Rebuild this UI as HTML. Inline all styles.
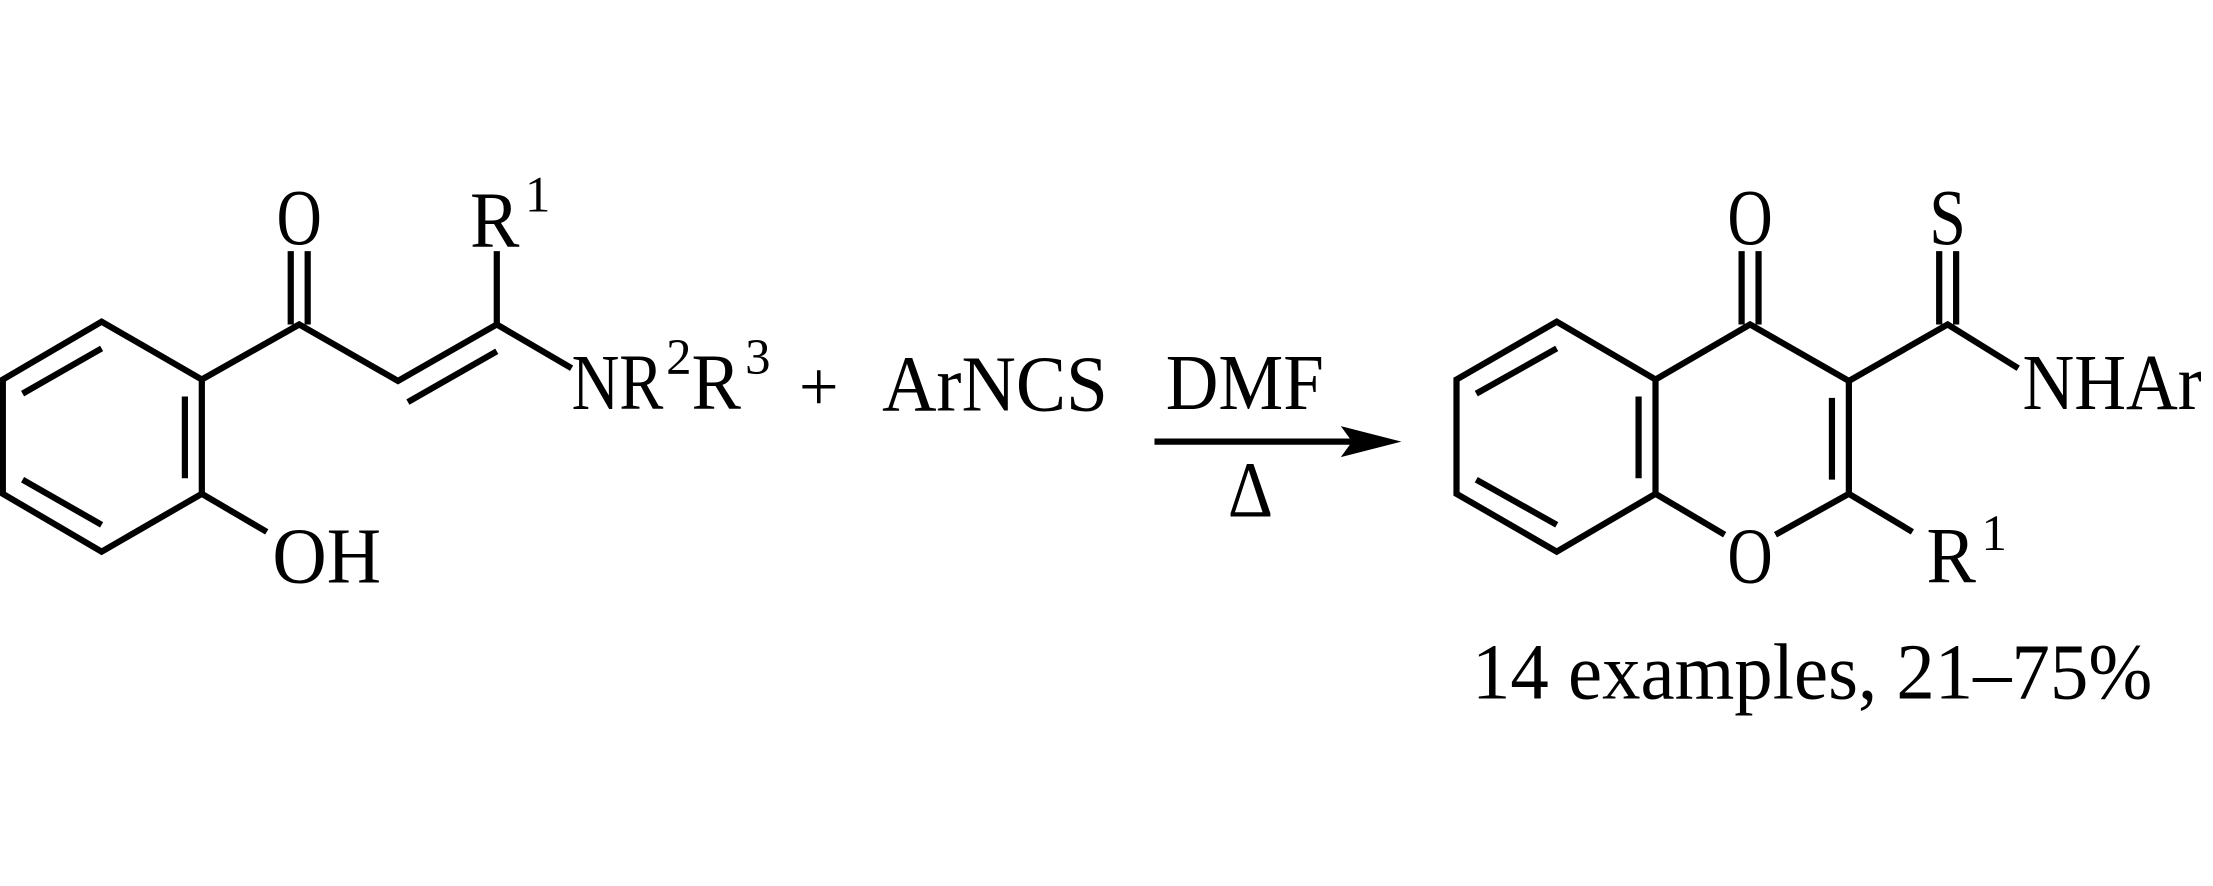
<!DOCTYPE html>
<html><head><style>
html,body{margin:0;padding:0;background:#fff;}
svg{display:block}
text{font-family:"Liberation Serif",serif;fill:#000}
</style></head><body>
<svg width="2213" height="886" viewBox="0 0 1568 628" preserveAspectRatio="none">
<g stroke="#000" stroke-width="4.4" fill="none" stroke-linecap="butt" stroke-linejoin="miter">
<polygon points="72,228 143,269 143,350 72,391 2,350 2,269"/>
<line x1="16" y1="279" x2="72" y2="247"/>
<line x1="131" y1="281" x2="131" y2="339"/>
<line x1="16" y1="340" x2="72" y2="372"/>
<polyline points="143,269 212,230 282,270 352,230 405,261"/>
<line x1="289" y1="285" x2="352" y2="249"/>
<line x1="206" y1="230" x2="206" y2="178"/>
<line x1="218" y1="230" x2="218" y2="178"/>
<line x1="352" y1="230" x2="352" y2="178"/>
<line x1="143" y1="350" x2="189" y2="377"/>
<line x1="818" y1="313" x2="965" y2="313"/>
<polygon points="1103,228 1173,269 1173,350 1103,391 1032,350 1032,269"/>
<line x1="1046" y1="279" x2="1103" y2="247"/>
<line x1="1046" y1="340" x2="1103" y2="372"/>
<line x1="1161" y1="281" x2="1161" y2="339"/>
<polyline points="1173,269 1240,230 1310,270 1380,230 1430,261"/>
<line x1="1310" y1="270" x2="1310" y2="352"/>
<line x1="1298" y1="282" x2="1298" y2="340"/>
<line x1="1173" y1="350" x2="1222" y2="379"/>
<line x1="1258" y1="379" x2="1310" y2="350"/>
<line x1="1310" y1="350" x2="1355" y2="377"/>
<line x1="1234" y1="230" x2="1234" y2="178"/>
<line x1="1246" y1="230" x2="1246" y2="178"/>
<line x1="1374" y1="230" x2="1374" y2="178"/>
<line x1="1386" y1="230" x2="1386" y2="178"/>
</g>
<polygon points="993,313 950,302 958,313 950,324" fill="#000"/>
<g font-size="56">
<text x="196" y="173" textLength="32" lengthAdjust="spacingAndGlyphs">O</text>
<text x="333" y="175" textLength="35" lengthAdjust="spacingAndGlyphs">R</text><text x="372" y="150" font-size="36">1</text>
<text x="405" y="290" textLength="65" lengthAdjust="spacingAndGlyphs">NR</text><text x="472" y="265" font-size="36">2</text><text x="490" y="290" textLength="35" lengthAdjust="spacingAndGlyphs">R</text><text x="528" y="265" font-size="36">3</text>
<text x="193" y="413" textLength="77" lengthAdjust="spacingAndGlyphs">OH</text>
<text x="566" y="291" font-size="50">+</text>
<text x="625" y="291" textLength="160" lengthAdjust="spacingAndGlyphs">ArNCS</text>
<text x="826" y="290" textLength="112" lengthAdjust="spacingAndGlyphs">DMF</text>
<text x="870" y="366" textLength="32" lengthAdjust="spacingAndGlyphs">Δ</text>
<text x="1224" y="173" textLength="32" lengthAdjust="spacingAndGlyphs">O</text>
<text x="1367" y="173" textLength="26" lengthAdjust="spacingAndGlyphs">S</text>
<text x="1433" y="290" textLength="127" lengthAdjust="spacingAndGlyphs">NHAr</text>
<text x="1224" y="413" textLength="32" lengthAdjust="spacingAndGlyphs">O</text>
<text x="1365" y="413" textLength="35" lengthAdjust="spacingAndGlyphs">R</text><text x="1404" y="390" font-size="36">1</text>
<text x="1043" y="495" textLength="482" lengthAdjust="spacingAndGlyphs">14 examples, 21–75%</text>
</g>
</svg>
</body></html>
